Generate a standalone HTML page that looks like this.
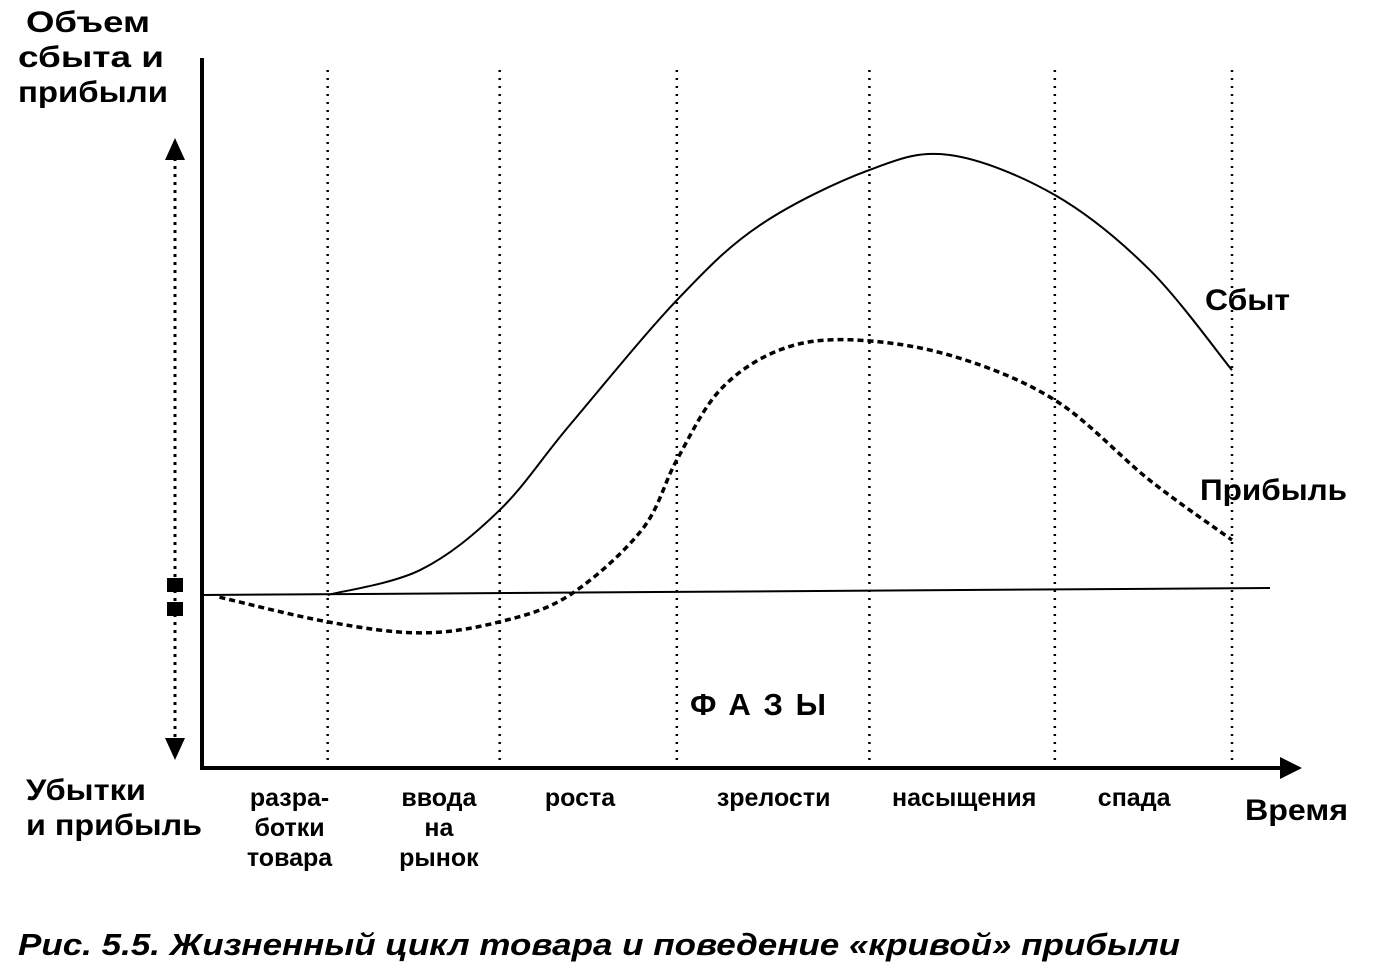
<!DOCTYPE html>
<html><head><meta charset="utf-8">
<style>
html,body{margin:0;padding:0;background:#fff;}
body{width:1373px;height:973px;overflow:hidden;position:relative;font-family:"Liberation Sans",Arial,sans-serif;}
svg{position:absolute;left:0;top:0;}
</style></head>
<body>
<svg id="chart" width="1373" height="973" viewBox="0 0 1373 973" font-family="Liberation Sans, sans-serif" font-weight="bold">
  <g font-size="30" fill="#000">
    <text x="26" y="32" textLength="124" lengthAdjust="spacingAndGlyphs">Объем</text>
    <text x="18" y="67" textLength="146" lengthAdjust="spacingAndGlyphs">сбыта и</text>
    <text x="18" y="102" textLength="150" lengthAdjust="spacingAndGlyphs">прибыли</text>
  </g>
  <g font-size="30" fill="#000">
    <text x="26" y="800" textLength="120" lengthAdjust="spacingAndGlyphs">Убытки</text>
    <text x="26" y="835" textLength="176" lengthAdjust="spacingAndGlyphs">и прибыль</text>
  </g>
  <g id="grid"></g>
  <line x1="202" y1="58" x2="202" y2="770" stroke="#000" stroke-width="4"/>
  <line x1="200" y1="768" x2="1285" y2="768" stroke="#000" stroke-width="4"/>
  <polygon points="1280,757 1302,768 1280,779" fill="#000"/>
  <line x1="202" y1="595" x2="1270" y2="588" stroke="#000" stroke-width="2"/>
  <g>
    <line x1="175" y1="150" x2="175" y2="745" stroke="#000" stroke-width="3" stroke-dasharray="3,5"/>
    <polygon points="165,160 175,138 185,160" fill="#000"/>
    <polygon points="165,738 175,760 185,738" fill="#000"/>
    <rect x="167" y="578" width="16" height="14" fill="#000"/>
    <rect x="167" y="602" width="16" height="14" fill="#000"/>
  </g>
  <path id="sales" fill="none" stroke="#000" stroke-width="2"/>
  <path id="profit" fill="none" stroke="#000" stroke-width="3.5" stroke-dasharray="6,4"/>
  <text x="1205" y="310" font-size="30" textLength="85" lengthAdjust="spacingAndGlyphs">Сбыт</text>
  <text x="1200" y="500" font-size="30" textLength="147" lengthAdjust="spacingAndGlyphs">Прибыль</text>
  <text x="690" y="715" font-size="31" letter-spacing="14" textLength="150" lengthAdjust="spacing">ФАЗЫ</text>
  <g id="phases" font-size="25" text-anchor="middle"></g>
  <text x="1245" y="820" font-size="30" textLength="103" lengthAdjust="spacingAndGlyphs">Время</text>
  <text x="18" y="955" font-size="31" font-style="italic" textLength="1162" lengthAdjust="spacingAndGlyphs">Рис. 5.5.  Жизненный цикл товара и поведение «кривой» прибыли</text>
</svg>
<script>
const boundaries = [1.22, 2.89, 4.61, 6.48, 8.28, 10.0];
const phaseNames = [["разра-","ботки","товара"],["ввода","на","рынок"],["роста"],["зрелости"],["насыщения"],["спада"]];
const phaseCenters = [0.85, 2.3, 3.67, 5.55, 7.4, 9.05];
const salesT = [1.22, 2.12, 2.89, 3.57, 4.61, 5.42, 6.48, 7.26, 8.28, 9.2, 10.0];
const salesV = [0, 0.57, 1.93, 3.86, 6.7, 8.41, 9.66, 10, 9.09, 7.39, 5.11];
const profitT = [0.17, 1.22, 2.12, 2.89, 3.57, 4.27, 4.61, 5.03, 5.61, 6.29, 7.26, 8.28, 9.2, 10.0];
const profitV = [-0.05, -0.61, -0.86, -0.61, 0, 1.48, 3.07, 4.66, 5.57, 5.8, 5.45, 4.43, 2.61, 1.25];

const xS = t => 202 + t * 103;
const yS = v => 595 - v * 44;
const NS = "http://www.w3.org/2000/svg";

function smooth(T, V) {
  const p = T.map((t, i) => [xS(t), yS(V[i])]);
  let d = "M" + p[0][0] + "," + p[0][1];
  for (let i = 0; i < p.length - 1; i++) {
    const p0 = p[i - 1] || p[i], p1 = p[i], p2 = p[i + 1], p3 = p[i + 2] || p2;
    const c1 = [p1[0] + (p2[0] - p0[0]) / 6, p1[1] + (p2[1] - p0[1]) / 6];
    const c2 = [p2[0] - (p3[0] - p1[0]) / 6, p2[1] - (p3[1] - p1[1]) / 6];
    d += " C" + c1 + " " + c2 + " " + p2;
  }
  return d;
}
document.getElementById("sales").setAttribute("d", smooth(salesT, salesV));
document.getElementById("profit").setAttribute("d", smooth(profitT, profitV));

const grid = document.getElementById("grid");
boundaries.forEach(b => {
  const l = document.createElementNS(NS, "line");
  
  
  l.setAttribute("x1", xS(b)); l.setAttribute("x2", xS(b));
  l.setAttribute("y1", 70); l.setAttribute("y2", 765);
  l.setAttribute("stroke", "#000"); l.setAttribute("stroke-width", "2.5");
  l.setAttribute("stroke-dasharray", "2,6");
  grid.appendChild(l);
});
const ph = document.getElementById("phases");
phaseNames.forEach((lines, i) => {
  const t = document.createElementNS(NS, "text");
  
  
  t.setAttribute("x", xS(phaseCenters[i]));
  lines.forEach((s, j) => {
    const ts = document.createElementNS(NS, "tspan");
    ts.setAttribute("x", xS(phaseCenters[i]));
    ts.setAttribute("y", 806 + j * 30);
    ts.textContent = s;
    t.appendChild(ts);
  });
  ph.appendChild(t);
});
</script>
</body></html>
